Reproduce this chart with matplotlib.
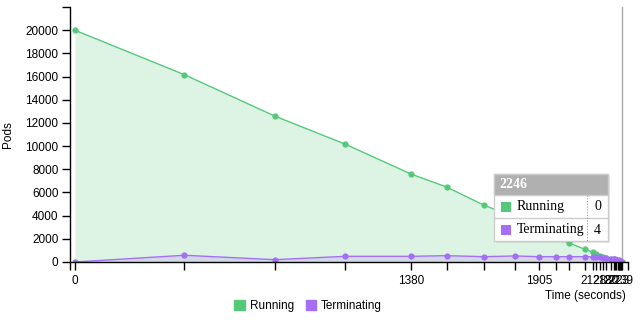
import matplotlib
matplotlib.use("Agg")
import matplotlib.pyplot as plt
from matplotlib.patches import Rectangle
from matplotlib.lines import Line2D

plt.rcParams["font.family"] = ["Liberation Sans", "DejaVu Sans"]

# time (seconds) of each sample
times = [0, 449, 821, 1110, 1380, 1526, 1681, 1808, 1905, 1977, 2030, 2093, 2128,
         2140, 2154, 2167, 2180, 2201, 2212, 2218, 2223, 2228, 2232, 2236, 2239,
         2242, 2244, 2246]
running = [20000, 16170, 12590, 10170, 7590, 6470, 4890, 3850, 2900, 2180, 1640,
           1100, 840, 660, 540, 450, 380, 300, 250, 200, 160, 120, 90, 60, 40, 20,
           10, 0]
terminating = [0, 580, 200, 490, 490, 545, 460, 520, 460, 460, 460, 460, 440, 420,
               400, 380, 350, 300, 270, 240, 200, 170, 130, 100, 70, 40, 20, 4]
yticks = list(range(0, 20001, 2000))
hover_idx = len(times) - 1

green = "#55c97a"
purple = "#a56ef5"

W, H = 640, 320
fig = plt.figure(figsize=(6.4, 3.2), dpi=100)
ax = fig.add_axes([69.5 / W, 1 - 262 / H, (628 - 69.5) / W, (262 - 7) / H])

ax.fill_between(times, running, color=green, alpha=0.2, lw=0)
ax.fill_between(times, terminating, color=purple, alpha=0.2, lw=0)
ax.plot(times, running, color=green, lw=1, marker="o", ms=4.5, mec="none")
ax.plot(times, terminating, color=purple, lw=1, marker="o", ms=4.5, mec="none")

# hover focus line
ax.axvline(times[hover_idx], color="#aaaaaa", lw=1, zorder=0)

ax.set_xlim(-22.6, 2271)
ax.set_ylim(0, 22011)
ax.set_yticks(yticks)
ax.set_yticks([22011], minor=True)
ax.set_xticks(times)
ax.set_xticklabels([str(t) if i % 4 == 0 else "" for i, t in enumerate(times)])
ax.set_xticks([-22.6, 2271], minor=True)
ax.tick_params(which="both", direction="out", length=6, width=1, labelsize=8.5,
               color="black", pad=2)
ax.tick_params(axis="x", which="major", labelsize=8.5, pad=3)
for s in ["top", "right"]:
    ax.spines[s].set_visible(False)
ax.spines["left"].set_linewidth(1)
ax.spines["bottom"].set_linewidth(1)

ax.set_ylabel("Pods", fontsize=8.5, labelpad=8)
fig.text(626 / W, 1 - 296 / H, "Time (seconds)", ha="right", va="center", fontsize=8.5)

# legend
lg = ax.legend(handles=[Rectangle((0, 0), 1, 1, color=green),
                        Rectangle((0, 0), 1, 1, color=purple)],
               labels=["Running", "Terminating"], loc="center",
               bbox_to_anchor=(308 / W, 1 - 306 / H), bbox_transform=fig.transFigure,
               ncol=2, frameon=False, fontsize=8.5, handlelength=0.9,
               handleheight=0.9, handletextpad=0.4, columnspacing=1.0)

# tooltip (figure pixel coordinates)
def fx(x):
    return x / W

def fy(y):
    return 1 - y / H

x0, x1, y0, y1 = 494.3, 607.7, 174.3, 241
fig.add_artist(Rectangle((fx(x0 + 2), fy(y1 + 2)), (x1 - x0) / W, (y1 - y0) / H,
                         transform=fig.transFigure, color="#000000", alpha=0.08, lw=0))
fig.add_artist(Rectangle((fx(x0), fy(y1)), (x1 - x0) / W, (y1 - y0) / H,
                         transform=fig.transFigure, facecolor="white",
                         edgecolor="#cccccc", lw=1))
fig.add_artist(Rectangle((fx(x0), fy(195)), (x1 - x0) / W, (195 - y0) / H,
                         transform=fig.transFigure, facecolor="#b0b0b0",
                         edgecolor="#cccccc", lw=1))
fig.add_artist(Line2D([fx(x0), fx(x1)], [fy(218.3), fy(218.3)],
                      transform=fig.transFigure, color="#cccccc", lw=1))
fig.add_artist(Line2D([fx(587.3), fx(587.3)], [fy(195), fy(y1)],
                      transform=fig.transFigure, color="#999999", lw=0.8, ls=(0, (1, 1.5))))
serif = ["Liberation Serif", "DejaVu Serif"]
fig.text(fx(499), fy(185), str(times[hover_idx]), color="white", fontweight="bold",
         family=serif, fontsize=10, va="center", ha="left")
rows = [("Running", running[hover_idx], green, 206.5),
        ("Terminating", terminating[hover_idx], purple, 230)]
for name, val, col, yc in rows:
    fig.add_artist(Rectangle((fx(501), fy(yc + 5)), 10 / W, 10 / H,
                             transform=fig.transFigure, color=col, lw=0))
    fig.text(fx(516.5), fy(yc), name, family=serif, fontsize=10, va="center", ha="left")
    fig.text(fx(601), fy(yc), str(val), family=serif, fontsize=10, va="center", ha="right")

fig.savefig("out.png", dpi=100)
